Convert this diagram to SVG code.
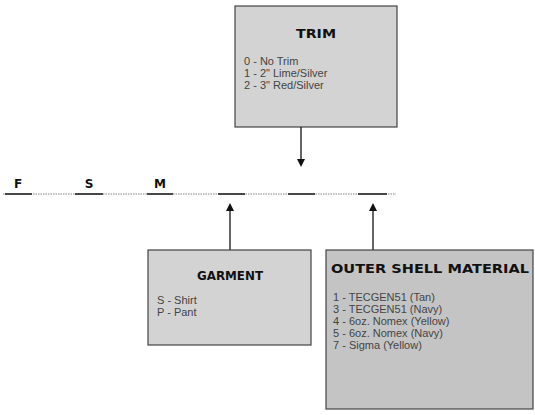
<svg xmlns="http://www.w3.org/2000/svg" width="535" height="415" viewBox="0 0 535 415">
<defs>
<marker id="ah" markerWidth="8" markerHeight="8" refX="4" refY="4" orient="auto" markerUnits="userSpaceOnUse">
<path d="M0,0 L8,4 L0,8 Z" fill="#111"/>
</marker>
</defs>
<style>
.box{fill:#d3d3d3;stroke:#444;stroke-width:1.2}
.box2{fill:#c4c4c4;stroke:#444;stroke-width:1.2}
.t{font-family:"DejaVu Sans",Verdana,sans-serif;font-weight:bold;font-size:13px;fill:#111}
.b{font-family:"Liberation Sans",Arial,sans-serif;font-size:11px;fill:#444}
.L{font-family:"DejaVu Sans",Verdana,sans-serif;font-weight:bold;font-size:12px;fill:#111}
.c{stroke:#111;stroke-width:1.3;fill:none}
.u{stroke:#222;stroke-width:1.6}
</style>
<rect width="535" height="415" fill="#fff"/>
<g id="trim">
<rect class="box" x="235" y="6" width="162" height="121"/>
<text class="t" x="316" y="38" text-anchor="middle" textLength="40" lengthAdjust="spacingAndGlyphs">TRIM</text>
<text class="b" x="244" y="65">0 - No Trim</text>
<text class="b" x="244" y="77">1 - 2" Lime/Silver</text>
<text class="b" x="244" y="89">2 - 3" Red/Silver</text>
</g>
<g id="code-line">
<line x1="3" y1="194" x2="396" y2="194" stroke="#666" stroke-width="0.8" stroke-dasharray="1.5,1"/>
<line class="u" x1="5" y1="194" x2="32" y2="194"/>
<line class="u" x1="75" y1="194" x2="103" y2="194"/>
<line class="u" x1="147" y1="194" x2="173" y2="194"/>
<line class="u" x1="218" y1="194" x2="245" y2="194"/>
<line class="u" x1="288" y1="194" x2="315" y2="194"/>
<line class="u" x1="358" y1="194" x2="387" y2="194"/>
<text class="L" x="18" y="188" text-anchor="middle">F</text>
<text class="L" x="89" y="188" text-anchor="middle">S</text>
<text class="L" x="160" y="188" text-anchor="middle">M</text>
</g>
<g id="connectors">
<line class="c" x1="301" y1="127" x2="301" y2="163" marker-end="url(#ah)"/>
<line class="c" x1="230" y1="250" x2="230" y2="207" marker-end="url(#ah)"/>
<line class="c" x1="373" y1="250" x2="373" y2="207" marker-end="url(#ah)"/>
</g>
<g id="garment">
<rect class="box" x="148" y="250" width="163" height="95"/>
<text class="t" x="230" y="280" text-anchor="middle" textLength="66" lengthAdjust="spacingAndGlyphs">GARMENT</text>
<text class="b" x="157" y="304">S - Shirt</text>
<text class="b" x="157" y="316">P - Pant</text>
</g>
<g id="outer-shell">
<rect class="box2" x="326" y="250" width="207" height="159"/>
<text class="t" x="430" y="273" text-anchor="middle" textLength="198" lengthAdjust="spacingAndGlyphs">OUTER SHELL MATERIAL</text>
<text class="b" x="333" y="301">1 - TECGEN51 (Tan)</text>
<text class="b" x="333" y="313">3 - TECGEN51 (Navy)</text>
<text class="b" x="333" y="325">4 - 6oz. Nomex (Yellow)</text>
<text class="b" x="333" y="337">5 - 6oz. Nomex (Navy)</text>
<text class="b" x="333" y="349">7 - Sigma (Yellow)</text>
</g>
</svg>
